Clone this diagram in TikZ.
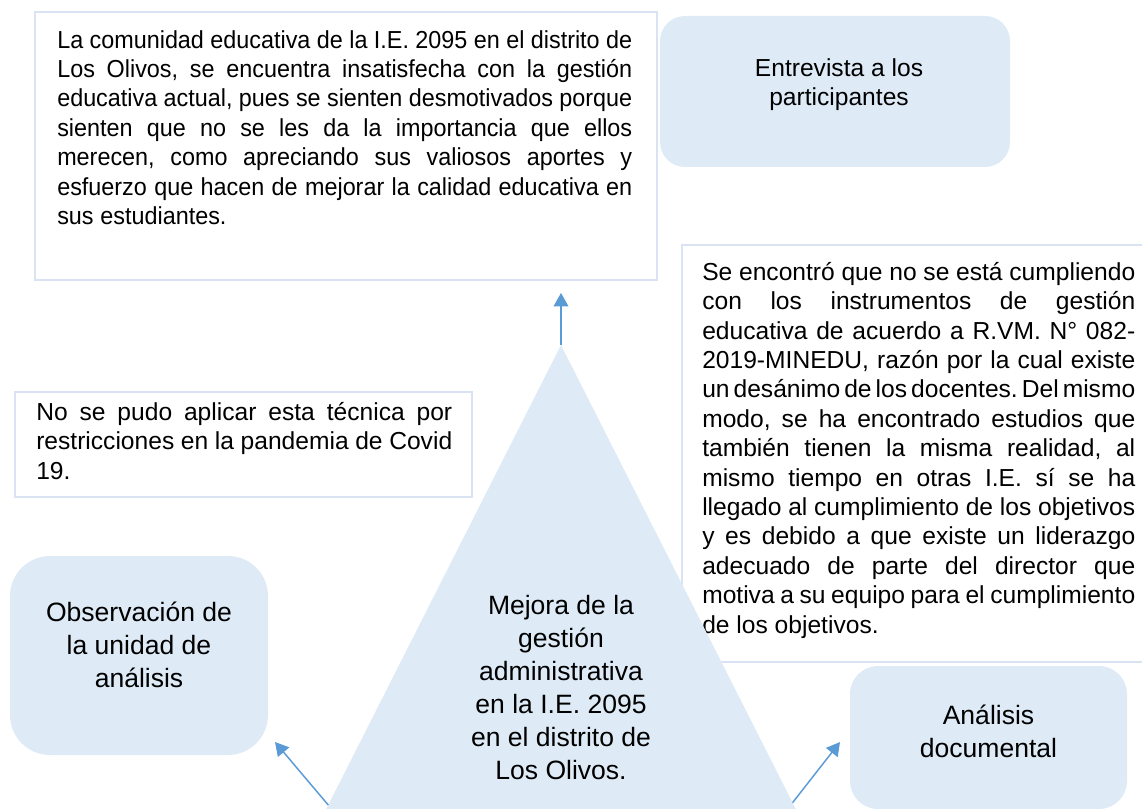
\documentclass[tikz,border=0pt]{standalone}
\usepackage{fontspec}
\setmainfont{Liberation Sans}
\newfontfamily\narrowfont{Liberation Sans}[FakeStretch=0.95]
\usetikzlibrary{positioning,calc,arrows.meta}

\definecolor{boxfill}{HTML}{DEEBF7}
\definecolor{boxline}{HTML}{DAE3F3}
\definecolor{arrowblue}{HTML}{5B9BD5}
\newcommand{\smalltext}{\fontsize{18.45}{22.05}\selectfont\frenchspacing\hyphenpenalty=10000
  \spaceskip=0.278em plus 0.25em minus 0.14em\relax}
\newcommand{\bigtext}{\fontsize{19.9}{24.6}\selectfont}

\tikzset{
  textframe/.style={draw=boxline, line width=2.2pt, fill=white, inner sep=0pt, outer sep=0pt, anchor=north west},
  softbox/.style={fill=boxfill, rounded corners=#1, inner sep=0pt, outer sep=0pt, anchor=north west},
  para/.style={inner sep=0pt, align=justify, font=\smalltext},
  boxtext/.style={inner sep=0pt, align=center},
  link/.style={draw=arrowblue, line width=1.1pt, -{Triangle[length=10pt,width=11pt]}}
}

\begin{document}
\begin{tikzpicture}[x=0.75pt, y=-0.75pt]
    \useasboundingbox (0,0) rectangle (1142,809);
    \clip (0,0) rectangle (1142,809);

    %% top frame and the two boxes at the top
    \node[textframe, minimum width=466.5pt, minimum height=201pt] (topFrame) at (35,12) {};
    \node[para, font=\narrowfont\smalltext, text width=431.25pt, below right=13.5pt and 16.5pt of topFrame.north west] (topText)
        {La comunidad educativa de la I.E. 2095 en el distrito de\linebreak
         Los Olivos, se encuentra insatisfecha con la gestión\linebreak
         educativa actual, pues se sienten desmotivados porque\linebreak
         sienten que no se les da la importancia que ellos\linebreak
         merecen, como apreciando sus valiosos aportes y\linebreak
         esfuerzo que hacen de mejorar la calidad educativa en\linebreak
         sus estudiantes.};
    \node[softbox=18.75pt, minimum width=262.5pt, minimum height=113.25pt] (entrevista) at (660,16) {};
    \node[boxtext, font=\smalltext, below=31.5pt of entrevista.north, xshift=3pt] (entrevistaText)
        {Entrevista a los\\participantes};

    %% right frame
    \node[textframe, minimum width=360pt, minimum height=312.75pt] (rightFrame) at (682,245) {};
    \node[para, text width=324.75pt, below right=12.75pt and 15pt of rightFrame.north west] (rightText)
        {Se encontró que no se está cumpliendo\linebreak
         con los instrumentos de gestión\linebreak
         educativa de acuerdo a R.VM. N° 082-\linebreak
         2019-MINEDU, razón por la cual existe\linebreak
         un desánimo de los docentes. Del mismo\linebreak
         modo, se ha encontrado estudios que\linebreak
         también tienen la misma realidad, al\linebreak
         mismo tiempo en otras I.E. sí se ha\linebreak
         llegado al cumplimiento de los objetivos\linebreak
         y es debido a que existe un liderazgo\linebreak
         adecuado de parte del director que\linebreak
         motiva a su equipo para el cumplimiento\linebreak
         de los objetivos.};

    %% left frame
    \node[textframe, minimum width=342.75pt, minimum height=78.75pt] (leftFrame) at (15,392) {};
    \node[para, text width=312pt, below right=7.5pt and 15.75pt of leftFrame.north west] (leftText)
        {No se pudo aplicar esta técnica por\linebreak
         restricciones en la pandemia de Covid\linebreak
         19.};

    %% bottom boxes
    \node[softbox=30pt, minimum width=193.5pt, minimum height=149.25pt] (obsBox) at (10,556) {};
    \node[boxtext, font=\bigtext, below=34.5pt of obsBox.north] (obsText)
        {Observación de\\la unidad de\\análisis};
    \node[softbox=21pt, minimum width=207.75pt, minimum height=107.25pt] (anaBox) at (850,666) {};
    \node[boxtext, font=\bigtext, below=29pt of anaBox.north] (anaText)
        {Análisis\\documental};

    %% triangle
    \coordinate (apex) at (561,345);
    \coordinate (baseL) at (324.7,812);
    \coordinate (baseR) at (797.3,812);
    \fill[boxfill] (apex) -- (baseL) -- (baseR) -- cycle;
    \node[boxtext, font=\fontsize{19.9}{24.75}\selectfont, below=187.5pt of apex] (mejoraText)
        {Mejora de la\\gestión\\administrativa\\en la I.E. 2095\\en el distrito de\\Los Olivos.};

    \draw[link] (apex) -- ([yshift=-9.75pt]topFrame.south -| apex);
    \draw[link] ($(apex)!0.985!(baseL)$) -- ([xshift=5.25pt,yshift=9.75pt]obsBox.south east);
    \draw[link] ($(apex)!0.98!(baseR)$) -- ([xshift=-7.5pt,yshift=-3.4pt]anaBox.west);
\end{tikzpicture}
\end{document}
